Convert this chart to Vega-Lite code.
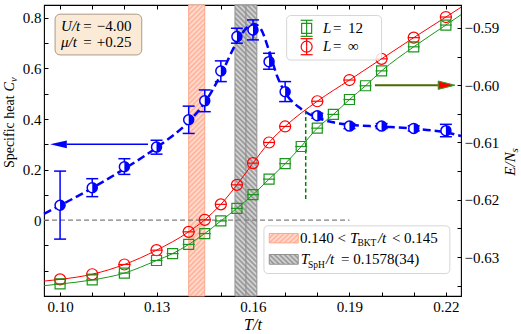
{
"$schema": "https://vega.github.io/schema/vega-lite/v6.json",
"width": 417, "height": 291,
"autosize": "none",
"padding": {"left": 44, "top": 5, "right": 60, "bottom": 38},
"background": "white",
"config": {
 "font": "Liberation Serif",
 "view": {"stroke": "#000000", "strokeWidth": 1.1},
 "axis": {"grid": false, "domain": false, "tickColor": "#000", "tickSize": -4, "tickWidth": 1, "labelFont": "Liberation Serif", "labelFontSize": 15, "labelColor": "#000", "labelFlush": false, "labelOverlap": false, "labelPadding": 7, "titleFont": "Liberation Serif", "titleFontWeight": "normal", "titleColor": "#000"}
},
"datasets": {
 "blue": [
  {"T": 0.10, "Cv": 0.059, "lo": -0.075, "hi": 0.194},
  {"T": 0.11, "Cv": 0.128, "lo": 0.093, "hi": 0.164},
  {"T": 0.12, "Cv": 0.211, "lo": 0.181, "hi": 0.243},
  {"T": 0.13, "Cv": 0.289, "lo": 0.261, "hi": 0.316},
  {"T": 0.14, "Cv": 0.397, "lo": 0.343, "hi": 0.451},
  {"T": 0.145, "Cv": 0.472, "lo": 0.429, "hi": 0.515},
  {"T": 0.15, "Cv": 0.590, "lo": 0.548, "hi": 0.630},
  {"T": 0.155, "Cv": 0.726, "lo": 0.700, "hi": 0.759},
  {"T": 0.16, "Cv": 0.752, "lo": 0.713, "hi": 0.792},
  {"T": 0.165, "Cv": 0.627, "lo": 0.597, "hi": 0.660},
  {"T": 0.17, "Cv": 0.508, "lo": 0.469, "hi": 0.548},
  {"T": 0.18, "Cv": 0.413, "lo": 0.403, "hi": 0.423},
  {"T": 0.19, "Cv": 0.372, "lo": 0.362, "hi": 0.382},
  {"T": 0.20, "Cv": 0.372, "lo": 0.362, "hi": 0.382},
  {"T": 0.21, "Cv": 0.363, "lo": 0.353, "hi": 0.373},
  {"T": 0.22, "Cv": 0.354, "lo": 0.330, "hi": 0.379}
 ],
 "blueFit": [
  {"T": 0.095, "Cv": 0.025}, {"T": 0.10, "Cv": 0.058}, {"T": 0.11, "Cv": 0.127}, {"T": 0.12, "Cv": 0.203},
  {"T": 0.13, "Cv": 0.287}, {"T": 0.14, "Cv": 0.39}, {"T": 0.145, "Cv": 0.465}, {"T": 0.15, "Cv": 0.575},
  {"T": 0.155, "Cv": 0.705}, {"T": 0.158, "Cv": 0.76}, {"T": 0.1605, "Cv": 0.775}, {"T": 0.1625, "Cv": 0.755},
  {"T": 0.165, "Cv": 0.67}, {"T": 0.1675, "Cv": 0.57}, {"T": 0.17, "Cv": 0.505}, {"T": 0.175, "Cv": 0.44},
  {"T": 0.18, "Cv": 0.405}, {"T": 0.185, "Cv": 0.387}, {"T": 0.19, "Cv": 0.377}, {"T": 0.20, "Cv": 0.37},
  {"T": 0.21, "Cv": 0.362}, {"T": 0.22, "Cv": 0.347}, {"T": 0.2247, "Cv": 0.333}
 ],
 "red": [
  {"T": 0.10, "E": -0.6339}, {"T": 0.11, "E": -0.6330}, {"T": 0.12, "E": -0.6313}, {"T": 0.13, "E": -0.6288},
  {"T": 0.14, "E": -0.6256}, {"T": 0.145, "E": -0.6235}, {"T": 0.15, "E": -0.6208}, {"T": 0.155, "E": -0.6174},
  {"T": 0.16, "E": -0.6136}, {"T": 0.165, "E": -0.6100}, {"T": 0.17, "E": -0.6072}, {"T": 0.18, "E": -0.6028},
  {"T": 0.19, "E": -0.5991}, {"T": 0.20, "E": -0.5954}, {"T": 0.21, "E": -0.5917}, {"T": 0.22, "E": -0.5881}
 ],
 "redFit": [
  {"T": 0.095, "E": -0.6342}, {"T": 0.10, "E": -0.6339}, {"T": 0.11, "E": -0.6330}, {"T": 0.12, "E": -0.6313}, {"T": 0.13, "E": -0.6288},
  {"T": 0.14, "E": -0.6256}, {"T": 0.145, "E": -0.6235}, {"T": 0.15, "E": -0.6208}, {"T": 0.155, "E": -0.6174},
  {"T": 0.16, "E": -0.6136}, {"T": 0.165, "E": -0.6100}, {"T": 0.17, "E": -0.6072}, {"T": 0.18, "E": -0.6028},
  {"T": 0.19, "E": -0.5991}, {"T": 0.20, "E": -0.5954}, {"T": 0.21, "E": -0.5917}, {"T": 0.22, "E": -0.5881}, {"T": 0.2247, "E": -0.5864}
 ],
 "green": [
  {"T": 0.10, "E": -0.6347}, {"T": 0.11, "E": -0.6340}, {"T": 0.12, "E": -0.6328}, {"T": 0.13, "E": -0.6306},
  {"T": 0.135, "E": -0.6294}, {"T": 0.14, "E": -0.6278}, {"T": 0.145, "E": -0.6259}, {"T": 0.15, "E": -0.6237},
  {"T": 0.155, "E": -0.6215}, {"T": 0.16, "E": -0.6191}, {"T": 0.165, "E": -0.6164}, {"T": 0.17, "E": -0.6137},
  {"T": 0.175, "E": -0.6107}, {"T": 0.18, "E": -0.6075}, {"T": 0.185, "E": -0.6051}, {"T": 0.19, "E": -0.6025},
  {"T": 0.195, "E": -0.6001}, {"T": 0.20, "E": -0.5975}, {"T": 0.21, "E": -0.5933}, {"T": 0.22, "E": -0.5895}
 ],
 "greenFit": [
  {"T": 0.095, "E": -0.6350}, {"T": 0.10, "E": -0.6347}, {"T": 0.11, "E": -0.6340}, {"T": 0.12, "E": -0.6328}, {"T": 0.13, "E": -0.6306},
  {"T": 0.135, "E": -0.6294}, {"T": 0.14, "E": -0.6278}, {"T": 0.145, "E": -0.6259}, {"T": 0.15, "E": -0.6237},
  {"T": 0.155, "E": -0.6215}, {"T": 0.16, "E": -0.6191}, {"T": 0.165, "E": -0.6164}, {"T": 0.17, "E": -0.6137},
  {"T": 0.175, "E": -0.6107}, {"T": 0.18, "E": -0.6075}, {"T": 0.185, "E": -0.6051}, {"T": 0.19, "E": -0.6025},
  {"T": 0.195, "E": -0.6001}, {"T": 0.20, "E": -0.5975}, {"T": 0.21, "E": -0.5933}, {"T": 0.22, "E": -0.5895}, {"T": 0.2247, "E": -0.5877}
 ],
 "bandBKT": [{"T": 0.14, "T2": 0.145, "Cv": -0.3, "Cv2": 0.851}],
 "bandSpH": [{"T": 0.1544, "T2": 0.1612, "Cv": -0.3, "Cv2": 0.851}],
 "lineSpH": [{"T": 0.1578, "Cv": -0.3, "Cv2": 0.851}],
 "zeroLine": [{"T": 0.095, "T2": 0.19, "Cv": 0}],
 "arrowBlue": [{"T": 0.10208, "T2": 0.12735, "Cv": 0.2998}],
 "arrowBlueHead": [{"T": 0.09949, "Cv": 0.2998}],
 "boxTL": [{"T": 0.09845, "T2": 0.1254, "Cv": 0.8147, "Cv2": 0.6535}],
 "boxBL": [{"T": 0.16341, "T2": 0.22123, "Cv": -0.02257, "Cv2": -0.2111}],
 "patchBKT": [{"T": 0.16506, "T2": 0.17408, "Cv": -0.05267, "Cv2": -0.0899}],
 "patchSpH": [{"T": 0.16506, "T2": 0.17408, "Cv": -0.1358, "Cv2": -0.1743}],
 "cvRoman": [
  {"T": 0.10724, "Cv": 0.7485, "text": "="},
  {"T": 0.11141, "Cv": 0.7485, "text": "−4.00"},
  {"T": 0.10724, "Cv": 0.6863, "text": "="},
  {"T": 0.11141, "Cv": 0.6863, "text": "+0.25"},
  {"T": 0.17460, "Cv": -0.0899, "text": "0.140 <"},
  {"T": 0.20320, "Cv": -0.0899, "text": "< 0.145"},
  {"T": 0.18735, "Cv": -0.1754, "text": "= 0.1578(34)"}
 ],
 "cvItal": [
  {"T": 0.10031, "Cv": 0.7485, "text": "U/t"},
  {"T": 0.10031, "Cv": 0.6863, "text": "μ/t"},
  {"T": 0.19015, "Cv": -0.0899, "text": "T"},
  {"T": 0.19885, "Cv": -0.0899, "text": "/t"},
  {"T": 0.17482, "Cv": -0.1754, "text": "T"},
  {"T": 0.18269, "Cv": -0.1754, "text": "/t"}
 ],
 "cvSub": [
  {"T": 0.19248, "Cv": -0.1018, "text": "BKT"},
  {"T": 0.17709, "Cv": -0.1873, "text": "SpH"}
 ],
 "titleCvRoman": [{"T": 0.08555, "Cv": 0.2059, "text": "Specific heat"}],
 "titleCvItal": [{"T": 0.08555, "Cv": 0.5089, "text": "C"}],
 "titleCvSub": [{"T": 0.08648, "Cv": 0.5465, "text": "v"}],
 "vlineG": [{"T": 0.1764, "E": -0.6044, "E2": -0.6200}],
 "arrowG": [{"T": 0.19792, "T2": 0.21763, "E": -0.60}],
 "arrowGHead": [{"T": 0.22021, "E": -0.60}],
 "boxTR": [{"T": 0.17047, "T2": 0.2, "E": -0.58784, "E2": -0.59561}],
 "legG": [{"T": 0.17669, "E": -0.59007, "lo": -0.59147, "hi": -0.58867}],
 "legR": [{"T": 0.17669, "E": -0.59328, "lo": -0.59468, "hi": -0.59188}],
 "trItal": [{"T": 0.18175, "E": -0.59093, "text": "L"}, {"T": 0.18175, "E": -0.59404, "text": "L"}],
 "trRoman": [
  {"T": 0.18486, "E": -0.59093, "text": "="}, {"T": 0.18952, "E": -0.59093, "text": "12"},
  {"T": 0.18486, "E": -0.59404, "text": "="}, {"T": 0.18952, "E": -0.59404, "text": "∞"}
 ],
 "titleE": [{"T": 0.24144, "E": -0.61579, "text": "E/N"}],
 "titleEs": [{"T": 0.24237, "E": -0.61175, "text": "s"}]
},
"layer": [
 {
  "encoding": {
   "x": {"field": "T", "type": "quantitative", "scale": {"domain": [0.095, 0.2247], "nice": false, "zero": false},
    "axis": {"orient": "bottom", "values": [0.1, 0.11, 0.12, 0.13, 0.14, 0.15, 0.16, 0.17, 0.18, 0.19, 0.2, 0.21, 0.22],
     "labelExpr": "round(datum.value*100) % 3 == 1 ? format(datum.value, '.2f') : ''",
     "title": "T/t", "titleFontStyle": "italic", "titleFontSize": 16, "titlePadding": 2}},
   "y": {"field": "Cv", "type": "quantitative", "scale": {"domain": [-0.3, 0.851], "nice": false, "zero": false},
    "axis": {"orient": "left", "values": [-0.2, -0.1, 0, 0.1, 0.2, 0.3, 0.4, 0.5, 0.6, 0.7, 0.8],
     "labelExpr": "datum.value > -0.001 && round(datum.value*10) % 2 == 0 ? (abs(datum.value) < 0.001 ? '0' : format(datum.value, '.1f')) : ''",
     "title": null}}
  },
  "layer": [
   {"data": {"name": "bandBKT"}, "mark": {"type": "rect", "stroke": "#ffa68c", "strokeWidth": 1,
     "fill": {"gradient": "linear", "x1": 0, "y1": 0, "x2": 0.0586, "y2": 1.06, "stops": [
      {"offset": 0, "color": "#ffae95"}, {"offset": 0.008, "color": "#ffe2d6"}, {"offset": 0.016, "color": "#ffae95"}, {"offset": 0.024, "color": "#ffe2d6"},
      {"offset": 0.032, "color": "#ffae95"}, {"offset": 0.04, "color": "#ffe2d6"}, {"offset": 0.048, "color": "#ffae95"}, {"offset": 0.056, "color": "#ffe2d6"},
      {"offset": 0.064, "color": "#ffae95"}, {"offset": 0.072, "color": "#ffe2d6"}, {"offset": 0.08, "color": "#ffae95"}, {"offset": 0.088, "color": "#ffe2d6"},
      {"offset": 0.096, "color": "#ffae95"}, {"offset": 0.104, "color": "#ffe2d6"}, {"offset": 0.112, "color": "#ffae95"}, {"offset": 0.12, "color": "#ffe2d6"},
      {"offset": 0.128, "color": "#ffae95"}, {"offset": 0.136, "color": "#ffe2d6"}, {"offset": 0.144, "color": "#ffae95"}, {"offset": 0.152, "color": "#ffe2d6"},
      {"offset": 0.16, "color": "#ffae95"}, {"offset": 0.168, "color": "#ffe2d6"}, {"offset": 0.176, "color": "#ffae95"}, {"offset": 0.184, "color": "#ffe2d6"},
      {"offset": 0.192, "color": "#ffae95"}, {"offset": 0.2, "color": "#ffe2d6"}, {"offset": 0.208, "color": "#ffae95"}, {"offset": 0.216, "color": "#ffe2d6"},
      {"offset": 0.224, "color": "#ffae95"}, {"offset": 0.232, "color": "#ffe2d6"}, {"offset": 0.24, "color": "#ffae95"}, {"offset": 0.248, "color": "#ffe2d6"},
      {"offset": 0.256, "color": "#ffae95"}, {"offset": 0.264, "color": "#ffe2d6"}, {"offset": 0.272, "color": "#ffae95"}, {"offset": 0.28, "color": "#ffe2d6"},
      {"offset": 0.288, "color": "#ffae95"}, {"offset": 0.296, "color": "#ffe2d6"}, {"offset": 0.304, "color": "#ffae95"}, {"offset": 0.312, "color": "#ffe2d6"},
      {"offset": 0.32, "color": "#ffae95"}, {"offset": 0.328, "color": "#ffe2d6"}, {"offset": 0.336, "color": "#ffae95"}, {"offset": 0.344, "color": "#ffe2d6"},
      {"offset": 0.352, "color": "#ffae95"}, {"offset": 0.36, "color": "#ffe2d6"}, {"offset": 0.368, "color": "#ffae95"}, {"offset": 0.376, "color": "#ffe2d6"},
      {"offset": 0.384, "color": "#ffae95"}, {"offset": 0.392, "color": "#ffe2d6"}, {"offset": 0.4, "color": "#ffae95"}, {"offset": 0.408, "color": "#ffe2d6"},
      {"offset": 0.416, "color": "#ffae95"}, {"offset": 0.424, "color": "#ffe2d6"}, {"offset": 0.432, "color": "#ffae95"}, {"offset": 0.44, "color": "#ffe2d6"},
      {"offset": 0.448, "color": "#ffae95"}, {"offset": 0.456, "color": "#ffe2d6"}, {"offset": 0.464, "color": "#ffae95"}, {"offset": 0.472, "color": "#ffe2d6"},
      {"offset": 0.48, "color": "#ffae95"}, {"offset": 0.488, "color": "#ffe2d6"}, {"offset": 0.496, "color": "#ffae95"}, {"offset": 0.504, "color": "#ffe2d6"},
      {"offset": 0.512, "color": "#ffae95"}, {"offset": 0.52, "color": "#ffe2d6"}, {"offset": 0.528, "color": "#ffae95"}, {"offset": 0.536, "color": "#ffe2d6"},
      {"offset": 0.544, "color": "#ffae95"}, {"offset": 0.552, "color": "#ffe2d6"}, {"offset": 0.56, "color": "#ffae95"}, {"offset": 0.568, "color": "#ffe2d6"},
      {"offset": 0.576, "color": "#ffae95"}, {"offset": 0.584, "color": "#ffe2d6"}, {"offset": 0.592, "color": "#ffae95"}, {"offset": 0.6, "color": "#ffe2d6"},
      {"offset": 0.608, "color": "#ffae95"}, {"offset": 0.616, "color": "#ffe2d6"}, {"offset": 0.624, "color": "#ffae95"}, {"offset": 0.632, "color": "#ffe2d6"},
      {"offset": 0.64, "color": "#ffae95"}, {"offset": 0.648, "color": "#ffe2d6"}, {"offset": 0.656, "color": "#ffae95"}, {"offset": 0.664, "color": "#ffe2d6"},
      {"offset": 0.672, "color": "#ffae95"}, {"offset": 0.68, "color": "#ffe2d6"}, {"offset": 0.688, "color": "#ffae95"}, {"offset": 0.696, "color": "#ffe2d6"},
      {"offset": 0.704, "color": "#ffae95"}, {"offset": 0.712, "color": "#ffe2d6"}, {"offset": 0.72, "color": "#ffae95"}, {"offset": 0.728, "color": "#ffe2d6"},
      {"offset": 0.736, "color": "#ffae95"}, {"offset": 0.744, "color": "#ffe2d6"}, {"offset": 0.752, "color": "#ffae95"}, {"offset": 0.76, "color": "#ffe2d6"},
      {"offset": 0.768, "color": "#ffae95"}, {"offset": 0.776, "color": "#ffe2d6"}, {"offset": 0.784, "color": "#ffae95"}, {"offset": 0.792, "color": "#ffe2d6"},
      {"offset": 0.8, "color": "#ffae95"}, {"offset": 0.808, "color": "#ffe2d6"}, {"offset": 0.816, "color": "#ffae95"}, {"offset": 0.824, "color": "#ffe2d6"},
      {"offset": 0.832, "color": "#ffae95"}, {"offset": 0.84, "color": "#ffe2d6"}, {"offset": 0.848, "color": "#ffae95"}, {"offset": 0.856, "color": "#ffe2d6"},
      {"offset": 0.864, "color": "#ffae95"}, {"offset": 0.872, "color": "#ffe2d6"}, {"offset": 0.88, "color": "#ffae95"}, {"offset": 0.888, "color": "#ffe2d6"},
      {"offset": 0.896, "color": "#ffae95"}, {"offset": 0.904, "color": "#ffe2d6"}, {"offset": 0.912, "color": "#ffae95"}, {"offset": 0.92, "color": "#ffe2d6"},
      {"offset": 0.928, "color": "#ffae95"}, {"offset": 0.936, "color": "#ffe2d6"}, {"offset": 0.944, "color": "#ffae95"}, {"offset": 0.952, "color": "#ffe2d6"},
      {"offset": 0.96, "color": "#ffae95"}, {"offset": 0.968, "color": "#ffe2d6"}, {"offset": 0.976, "color": "#ffae95"}, {"offset": 0.984, "color": "#ffe2d6"},
      {"offset": 0.992, "color": "#ffae95"}, {"offset": 1, "color": "#ffe2d6"}]}},
    "encoding": {"x2": {"field": "T2"}, "y2": {"field": "Cv2"}}},
   {"data": {"name": "bandSpH"}, "mark": {"type": "rect", "stroke": "#909090", "strokeWidth": 1,
     "fill": {"gradient": "linear", "x1": 0, "y1": 1, "x2": 0.0813, "y2": -0.08, "stops": [
      {"offset": 0, "color": "#929292"}, {"offset": 0.008, "color": "#dcdcdc"}, {"offset": 0.016, "color": "#929292"}, {"offset": 0.024, "color": "#dcdcdc"},
      {"offset": 0.032, "color": "#929292"}, {"offset": 0.04, "color": "#dcdcdc"}, {"offset": 0.048, "color": "#929292"}, {"offset": 0.056, "color": "#dcdcdc"},
      {"offset": 0.064, "color": "#929292"}, {"offset": 0.072, "color": "#dcdcdc"}, {"offset": 0.08, "color": "#929292"}, {"offset": 0.088, "color": "#dcdcdc"},
      {"offset": 0.096, "color": "#929292"}, {"offset": 0.104, "color": "#dcdcdc"}, {"offset": 0.112, "color": "#929292"}, {"offset": 0.12, "color": "#dcdcdc"},
      {"offset": 0.128, "color": "#929292"}, {"offset": 0.136, "color": "#dcdcdc"}, {"offset": 0.144, "color": "#929292"}, {"offset": 0.152, "color": "#dcdcdc"},
      {"offset": 0.16, "color": "#929292"}, {"offset": 0.168, "color": "#dcdcdc"}, {"offset": 0.176, "color": "#929292"}, {"offset": 0.184, "color": "#dcdcdc"},
      {"offset": 0.192, "color": "#929292"}, {"offset": 0.2, "color": "#dcdcdc"}, {"offset": 0.208, "color": "#929292"}, {"offset": 0.216, "color": "#dcdcdc"},
      {"offset": 0.224, "color": "#929292"}, {"offset": 0.232, "color": "#dcdcdc"}, {"offset": 0.24, "color": "#929292"}, {"offset": 0.248, "color": "#dcdcdc"},
      {"offset": 0.256, "color": "#929292"}, {"offset": 0.264, "color": "#dcdcdc"}, {"offset": 0.272, "color": "#929292"}, {"offset": 0.28, "color": "#dcdcdc"},
      {"offset": 0.288, "color": "#929292"}, {"offset": 0.296, "color": "#dcdcdc"}, {"offset": 0.304, "color": "#929292"}, {"offset": 0.312, "color": "#dcdcdc"},
      {"offset": 0.32, "color": "#929292"}, {"offset": 0.328, "color": "#dcdcdc"}, {"offset": 0.336, "color": "#929292"}, {"offset": 0.344, "color": "#dcdcdc"},
      {"offset": 0.352, "color": "#929292"}, {"offset": 0.36, "color": "#dcdcdc"}, {"offset": 0.368, "color": "#929292"}, {"offset": 0.376, "color": "#dcdcdc"},
      {"offset": 0.384, "color": "#929292"}, {"offset": 0.392, "color": "#dcdcdc"}, {"offset": 0.4, "color": "#929292"}, {"offset": 0.408, "color": "#dcdcdc"},
      {"offset": 0.416, "color": "#929292"}, {"offset": 0.424, "color": "#dcdcdc"}, {"offset": 0.432, "color": "#929292"}, {"offset": 0.44, "color": "#dcdcdc"},
      {"offset": 0.448, "color": "#929292"}, {"offset": 0.456, "color": "#dcdcdc"}, {"offset": 0.464, "color": "#929292"}, {"offset": 0.472, "color": "#dcdcdc"},
      {"offset": 0.48, "color": "#929292"}, {"offset": 0.488, "color": "#dcdcdc"}, {"offset": 0.496, "color": "#929292"}, {"offset": 0.504, "color": "#dcdcdc"},
      {"offset": 0.512, "color": "#929292"}, {"offset": 0.52, "color": "#dcdcdc"}, {"offset": 0.528, "color": "#929292"}, {"offset": 0.536, "color": "#dcdcdc"},
      {"offset": 0.544, "color": "#929292"}, {"offset": 0.552, "color": "#dcdcdc"}, {"offset": 0.56, "color": "#929292"}, {"offset": 0.568, "color": "#dcdcdc"},
      {"offset": 0.576, "color": "#929292"}, {"offset": 0.584, "color": "#dcdcdc"}, {"offset": 0.592, "color": "#929292"}, {"offset": 0.6, "color": "#dcdcdc"},
      {"offset": 0.608, "color": "#929292"}, {"offset": 0.616, "color": "#dcdcdc"}, {"offset": 0.624, "color": "#929292"}, {"offset": 0.632, "color": "#dcdcdc"},
      {"offset": 0.64, "color": "#929292"}, {"offset": 0.648, "color": "#dcdcdc"}, {"offset": 0.656, "color": "#929292"}, {"offset": 0.664, "color": "#dcdcdc"},
      {"offset": 0.672, "color": "#929292"}, {"offset": 0.68, "color": "#dcdcdc"}, {"offset": 0.688, "color": "#929292"}, {"offset": 0.696, "color": "#dcdcdc"},
      {"offset": 0.704, "color": "#929292"}, {"offset": 0.712, "color": "#dcdcdc"}, {"offset": 0.72, "color": "#929292"}, {"offset": 0.728, "color": "#dcdcdc"},
      {"offset": 0.736, "color": "#929292"}, {"offset": 0.744, "color": "#dcdcdc"}, {"offset": 0.752, "color": "#929292"}, {"offset": 0.76, "color": "#dcdcdc"},
      {"offset": 0.768, "color": "#929292"}, {"offset": 0.776, "color": "#dcdcdc"}, {"offset": 0.784, "color": "#929292"}, {"offset": 0.792, "color": "#dcdcdc"},
      {"offset": 0.8, "color": "#929292"}, {"offset": 0.808, "color": "#dcdcdc"}, {"offset": 0.816, "color": "#929292"}, {"offset": 0.824, "color": "#dcdcdc"},
      {"offset": 0.832, "color": "#929292"}, {"offset": 0.84, "color": "#dcdcdc"}, {"offset": 0.848, "color": "#929292"}, {"offset": 0.856, "color": "#dcdcdc"},
      {"offset": 0.864, "color": "#929292"}, {"offset": 0.872, "color": "#dcdcdc"}, {"offset": 0.88, "color": "#929292"}, {"offset": 0.888, "color": "#dcdcdc"},
      {"offset": 0.896, "color": "#929292"}, {"offset": 0.904, "color": "#dcdcdc"}, {"offset": 0.912, "color": "#929292"}, {"offset": 0.92, "color": "#dcdcdc"},
      {"offset": 0.928, "color": "#929292"}, {"offset": 0.936, "color": "#dcdcdc"}, {"offset": 0.944, "color": "#929292"}, {"offset": 0.952, "color": "#dcdcdc"},
      {"offset": 0.96, "color": "#929292"}, {"offset": 0.968, "color": "#dcdcdc"}, {"offset": 0.976, "color": "#929292"}, {"offset": 0.984, "color": "#dcdcdc"},
      {"offset": 0.992, "color": "#929292"}, {"offset": 1, "color": "#dcdcdc"}]}},
    "encoding": {"x2": {"field": "T2"}, "y2": {"field": "Cv2"}}},
   {"data": {"name": "lineSpH"}, "mark": {"type": "rule", "color": "#8a8a8a", "strokeWidth": 1}, "encoding": {"y2": {"field": "Cv2"}}},
   {"data": {"name": "zeroLine"}, "mark": {"type": "rule", "color": "#808080", "strokeWidth": 1.2, "strokeDash": [5, 3]}, "encoding": {"x2": {"field": "T2"}}},
   {"data": {"name": "blueFit"}, "mark": {"type": "line", "color": "#0000ff", "strokeWidth": 2.5, "strokeDash": [8, 4], "interpolate": "monotone"}, "encoding": {}},
   {"data": {"name": "blue"}, "mark": {"type": "rule", "color": "#0000ff", "strokeWidth": 1.5}, "encoding": {"y2": {"field": "lo"}}},
   {"data": {"name": "blue"}, "mark": {"type": "rule", "color": "#0000ff", "strokeWidth": 1.5}, "encoding": {"y2": {"field": "hi"}}},
   {"data": {"name": "blue"}, "transform": [{"fold": ["lo", "hi"], "as": ["end", "Cv"]}], "mark": {"type": "point", "shape": "stroke", "filled": false, "color": "#0000ff", "strokeWidth": 1.5, "size": 144, "opacity": 1}, "encoding": {}},
   {"data": {"name": "blue"}, "mark": {"type": "point", "shape": "circle", "filled": true, "fill": "white", "stroke": "#0000ff", "strokeWidth": 1.5, "size": 100, "opacity": 1}, "encoding": {}},
   {"data": {"name": "blue"}, "mark": {"type": "point", "shape": "M0,-1A1,1,0,0,1,0,1Z", "filled": true, "color": "#0000ff", "size": 100, "opacity": 1}, "encoding": {}},
   {"data": {"name": "arrowBlue"}, "mark": {"type": "rule", "color": "#0000ff", "strokeWidth": 1.5}, "encoding": {"x2": {"field": "T2"}}},
   {"data": {"name": "arrowBlueHead"}, "mark": {"type": "point", "shape": "M-1,0L1,-0.46L1,0.46Z", "filled": true, "color": "#0000ff", "size": 280, "opacity": 1}, "encoding": {}},
   {"data": {"name": "boxTL"}, "mark": {"type": "rect", "fill": "#fbebd6", "stroke": "#a99b86", "strokeWidth": 1, "cornerRadius": 5}, "encoding": {"x2": {"field": "T2"}, "y2": {"field": "Cv2"}}},
   {"data": {"name": "boxBL"}, "mark": {"type": "rect", "fill": "white", "fillOpacity": 0.85, "stroke": "#d5d5d5", "strokeWidth": 1, "cornerRadius": 4}, "encoding": {"x2": {"field": "T2"}, "y2": {"field": "Cv2"}}},
   {"data": {"name": "patchBKT"}, "mark": {"type": "rect", "stroke": "#ffa68c", "strokeWidth": 1,
     "fill": {"gradient": "linear", "x1": 0, "y1": 0, "x2": 1.2, "y2": 0.414, "stops": [
      {"offset": 0, "color": "#ffae95"}, {"offset": 0.064, "color": "#ffe2d6"}, {"offset": 0.128, "color": "#ffae95"}, {"offset": 0.192, "color": "#ffe2d6"},
      {"offset": 0.256, "color": "#ffae95"}, {"offset": 0.32, "color": "#ffe2d6"}, {"offset": 0.384, "color": "#ffae95"}, {"offset": 0.448, "color": "#ffe2d6"},
      {"offset": 0.512, "color": "#ffae95"}, {"offset": 0.576, "color": "#ffe2d6"}, {"offset": 0.64, "color": "#ffae95"}, {"offset": 0.704, "color": "#ffe2d6"},
      {"offset": 0.768, "color": "#ffae95"}, {"offset": 0.832, "color": "#ffe2d6"}, {"offset": 0.896, "color": "#ffae95"}, {"offset": 0.96, "color": "#ffe2d6"}]}},
    "encoding": {"x2": {"field": "T2"}, "y2": {"field": "Cv2"}}},
   {"data": {"name": "patchSpH"}, "mark": {"type": "rect", "stroke": "#909090", "strokeWidth": 1,
     "fill": {"gradient": "linear", "x1": 0, "y1": 1, "x2": 1.2, "y2": 0.586, "stops": [
      {"offset": 0, "color": "#929292"}, {"offset": 0.064, "color": "#dcdcdc"}, {"offset": 0.128, "color": "#929292"}, {"offset": 0.192, "color": "#dcdcdc"},
      {"offset": 0.256, "color": "#929292"}, {"offset": 0.32, "color": "#dcdcdc"}, {"offset": 0.384, "color": "#929292"}, {"offset": 0.448, "color": "#dcdcdc"},
      {"offset": 0.512, "color": "#929292"}, {"offset": 0.576, "color": "#dcdcdc"}, {"offset": 0.64, "color": "#929292"}, {"offset": 0.704, "color": "#dcdcdc"},
      {"offset": 0.768, "color": "#929292"}, {"offset": 0.832, "color": "#dcdcdc"}, {"offset": 0.896, "color": "#929292"}, {"offset": 0.96, "color": "#dcdcdc"}]}},
    "encoding": {"x2": {"field": "T2"}, "y2": {"field": "Cv2"}}},
   {"data": {"name": "cvRoman"}, "mark": {"type": "text", "align": "left", "baseline": "alphabetic", "fontSize": 15, "color": "#000"}, "encoding": {"text": {"field": "text"}}},
   {"data": {"name": "cvItal"}, "mark": {"type": "text", "align": "left", "baseline": "alphabetic", "fontSize": 15, "fontStyle": "italic", "color": "#000"}, "encoding": {"text": {"field": "text"}}},
   {"data": {"name": "cvSub"}, "mark": {"type": "text", "align": "left", "baseline": "alphabetic", "fontSize": 9.5, "color": "#000"}, "encoding": {"text": {"field": "text"}}},
   {"data": {"name": "titleCvRoman"}, "mark": {"type": "text", "align": "left", "baseline": "alphabetic", "angle": 270, "fontSize": 14, "color": "#000"}, "encoding": {"text": {"field": "text"}}},
   {"data": {"name": "titleCvItal"}, "mark": {"type": "text", "align": "left", "baseline": "alphabetic", "angle": 270, "fontSize": 14, "fontStyle": "italic", "color": "#000"}, "encoding": {"text": {"field": "text"}}},
   {"data": {"name": "titleCvSub"}, "mark": {"type": "text", "align": "left", "baseline": "alphabetic", "angle": 270, "fontSize": 10.5, "fontStyle": "italic", "color": "#000"}, "encoding": {"text": {"field": "text"}}}
  ]
 },
 {
  "encoding": {
   "x": {"field": "T", "type": "quantitative", "scale": {"domain": [0.095, 0.2247], "nice": false, "zero": false},
    "axis": {"orient": "top", "values": [0.1, 0.11, 0.12, 0.13, 0.14, 0.15, 0.16, 0.17, 0.18, 0.19, 0.2, 0.21, 0.22], "labels": false, "title": null}},
   "y": {"field": "E", "type": "quantitative", "scale": {"domain": [-0.6368, -0.586], "nice": false, "zero": false},
    "axis": {"orient": "right", "values": [-0.635, -0.63, -0.625, -0.62, -0.615, -0.61, -0.605, -0.6, -0.595, -0.59],
     "labelExpr": "round(datum.value*1000) % 10 == 0 ? format(datum.value, '.2f') : ''", "title": null}}
  },
  "layer": [
   {"data": {"name": "vlineG"}, "mark": {"type": "rule", "color": "#008000", "strokeWidth": 1.5, "strokeDash": [4, 2.5]}, "encoding": {"y2": {"field": "E2"}}},
   {"data": {"name": "redFit"}, "mark": {"type": "line", "color": "#ff0000", "strokeWidth": 1, "interpolate": "monotone"}, "encoding": {}},
   {"data": {"name": "greenFit"}, "mark": {"type": "line", "color": "#1a961a", "strokeWidth": 1, "interpolate": "monotone"}, "encoding": {}},
   {"data": {"name": "red"}, "mark": {"type": "point", "shape": "circle", "filled": false, "color": "#ff0000", "strokeWidth": 1.2, "size": 121, "opacity": 1}, "encoding": {}},
   {"data": {"name": "red"}, "mark": {"type": "point", "shape": "stroke", "filled": false, "color": "#ff0000", "strokeWidth": 1.2, "size": 144, "opacity": 1}, "encoding": {}},
   {"data": {"name": "green"}, "mark": {"type": "point", "shape": "square", "filled": false, "color": "#1a961a", "strokeWidth": 1.2, "size": 100, "opacity": 1}, "encoding": {}},
   {"data": {"name": "green"}, "mark": {"type": "point", "shape": "stroke", "filled": false, "color": "#1a961a", "strokeWidth": 1.2, "size": 144, "opacity": 1}, "encoding": {}},
   {"data": {"name": "arrowG"}, "mark": {"type": "rule", "color": "#486c00", "strokeWidth": 2}, "encoding": {"x2": {"field": "T2"}}},
   {"data": {"name": "arrowGHead"}, "mark": {"type": "point", "shape": "M1,0L-1,-0.5L-1,0.5Z", "filled": true, "fill": "#ff0000", "stroke": "#2ca02c", "strokeWidth": 1, "size": 280, "opacity": 1}, "encoding": {}},
   {"data": {"name": "boxTR"}, "mark": {"type": "rect", "fill": "white", "fillOpacity": 0.85, "stroke": "#d5d5d5", "strokeWidth": 1, "cornerRadius": 4}, "encoding": {"x2": {"field": "T2"}, "y2": {"field": "E2"}}},
   {"data": {"name": "legG"}, "mark": {"type": "rule", "color": "#1a961a", "strokeWidth": 1.2}, "encoding": {"y2": {"field": "lo"}}},
   {"data": {"name": "legG"}, "mark": {"type": "rule", "color": "#1a961a", "strokeWidth": 1.2}, "encoding": {"y2": {"field": "hi"}}},
   {"data": {"name": "legG"}, "transform": [{"fold": ["lo", "hi"], "as": ["end", "E"]}], "mark": {"type": "point", "shape": "stroke", "filled": false, "color": "#1a961a", "strokeWidth": 1.2, "size": 144, "opacity": 1}, "encoding": {}},
   {"data": {"name": "legG"}, "mark": {"type": "point", "shape": "square", "filled": false, "color": "#1a961a", "strokeWidth": 1.2, "size": 100, "opacity": 1}, "encoding": {}},
   {"data": {"name": "legR"}, "mark": {"type": "rule", "color": "#ff0000", "strokeWidth": 1.2}, "encoding": {"y2": {"field": "lo"}}},
   {"data": {"name": "legR"}, "mark": {"type": "rule", "color": "#ff0000", "strokeWidth": 1.2}, "encoding": {"y2": {"field": "hi"}}},
   {"data": {"name": "legR"}, "transform": [{"fold": ["lo", "hi"], "as": ["end", "E"]}], "mark": {"type": "point", "shape": "stroke", "filled": false, "color": "#ff0000", "strokeWidth": 1.2, "size": 144, "opacity": 1}, "encoding": {}},
   {"data": {"name": "legR"}, "mark": {"type": "point", "shape": "circle", "filled": false, "color": "#ff0000", "strokeWidth": 1.2, "size": 121, "opacity": 1}, "encoding": {}},
   {"data": {"name": "trItal"}, "mark": {"type": "text", "align": "left", "baseline": "alphabetic", "fontSize": 15, "fontStyle": "italic", "color": "#000"}, "encoding": {"text": {"field": "text"}}},
   {"data": {"name": "trRoman"}, "mark": {"type": "text", "align": "left", "baseline": "alphabetic", "fontSize": 15, "color": "#000"}, "encoding": {"text": {"field": "text"}}},
   {"data": {"name": "titleE"}, "mark": {"type": "text", "align": "left", "baseline": "alphabetic", "angle": 270, "fontSize": 15, "fontStyle": "italic", "color": "#000"}, "encoding": {"text": {"field": "text"}}},
   {"data": {"name": "titleEs"}, "mark": {"type": "text", "align": "left", "baseline": "alphabetic", "angle": 270, "fontSize": 11, "fontStyle": "italic", "color": "#000"}, "encoding": {"text": {"field": "text"}}}
  ]
 }
],
"resolve": {"scale": {"x": "independent", "y": "independent"}}
}
